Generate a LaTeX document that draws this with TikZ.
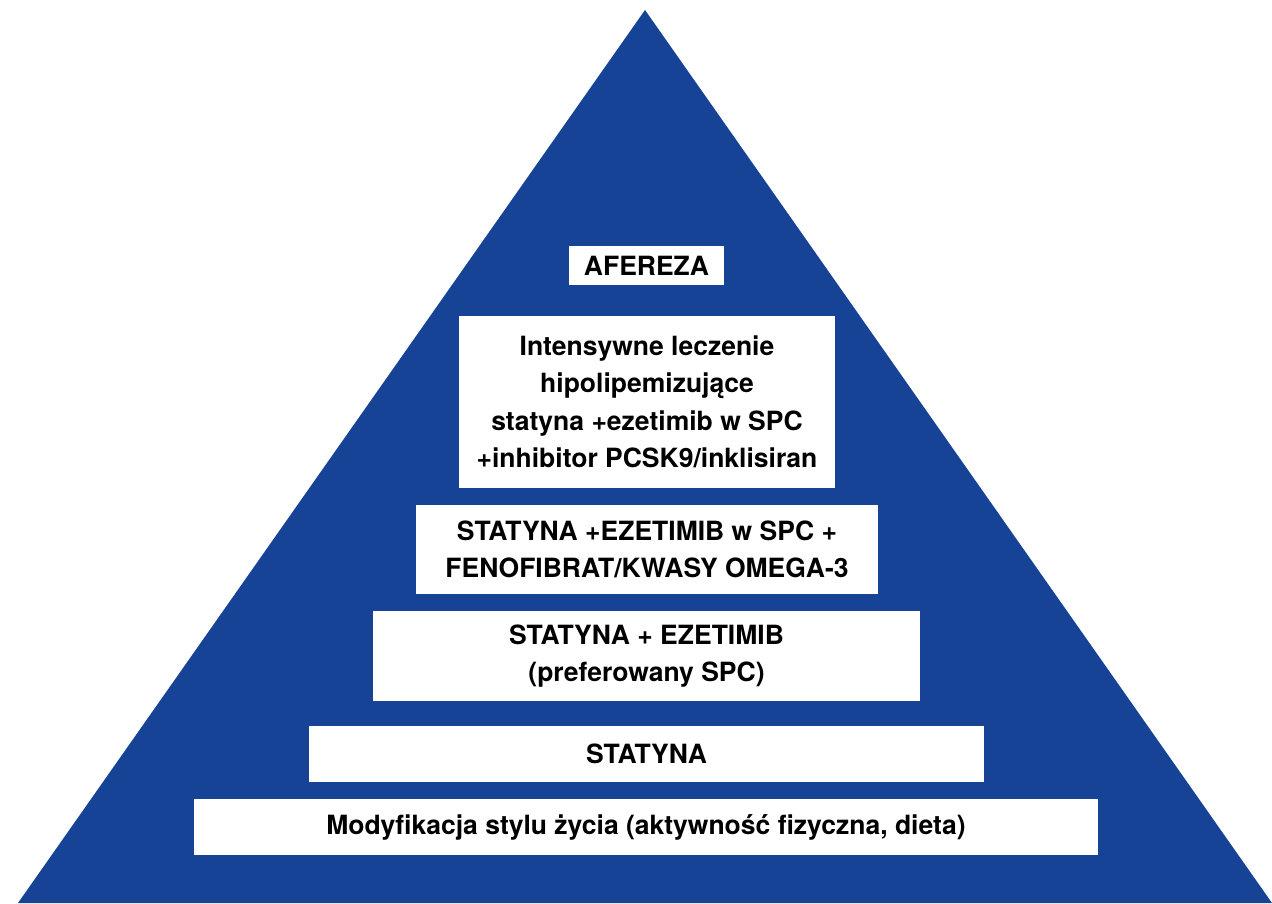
\documentclass[tikz,border=0pt]{standalone}
\usepackage{fontspec}
\setmainfont{TeX Gyre Heros}
\definecolor{pyramidblue}{RGB}{23,67,151}
\tikzset{level/.style={fill=white, text=black, inner sep=0pt, align=center,
    font=\bfseries\fontsize{26.5}{37.5}\selectfont}}

\begin{document}
\begin{tikzpicture}[x=1pt,y=-1pt]
                \useasboundingbox (0,0) rectangle (1272,903);
                \coordinate (apex) at (645,10);
                \coordinate (bl) at (18,903);
                \coordinate (br) at (1272,903);

                \fill[pyramidblue] (apex)-- (br)-- (bl)-- cycle;

                \node[level, minimum width=155, minimum height=39] (afereza) at (646.5,265.5) {AFEREZA};
                \node[level, minimum width=376, minimum height=172] (intensywne) at (647,402)
                    {Intensywne leczenie\\hipolipemizujące\\statyna +ezetimib w SPC\\+inhibitor PCSK9/inklisiran};
                \node[level, minimum width=462, minimum height=89] (fenofibrat) at (647,549.5)
                    {STATYNA +EZETIMIB w SPC +\\FENOFIBRAT/KWASY OMEGA-3};
                \node[level, minimum width=547, minimum height=90] (ezetimib) at (646.5,656)
                    {STATYNA + EZETIMIB\\(preferowany SPC)};
                \node[level, minimum width=675, minimum height=56] (statyna) at (646.5,754) {STATYNA};
                \node[level, minimum width=904, minimum height=56] (styl) at (646,827)
                    {Modyfikacja stylu życia (aktywność fizyczna, dieta)};

            \end{tikzpicture}
\end{document}
